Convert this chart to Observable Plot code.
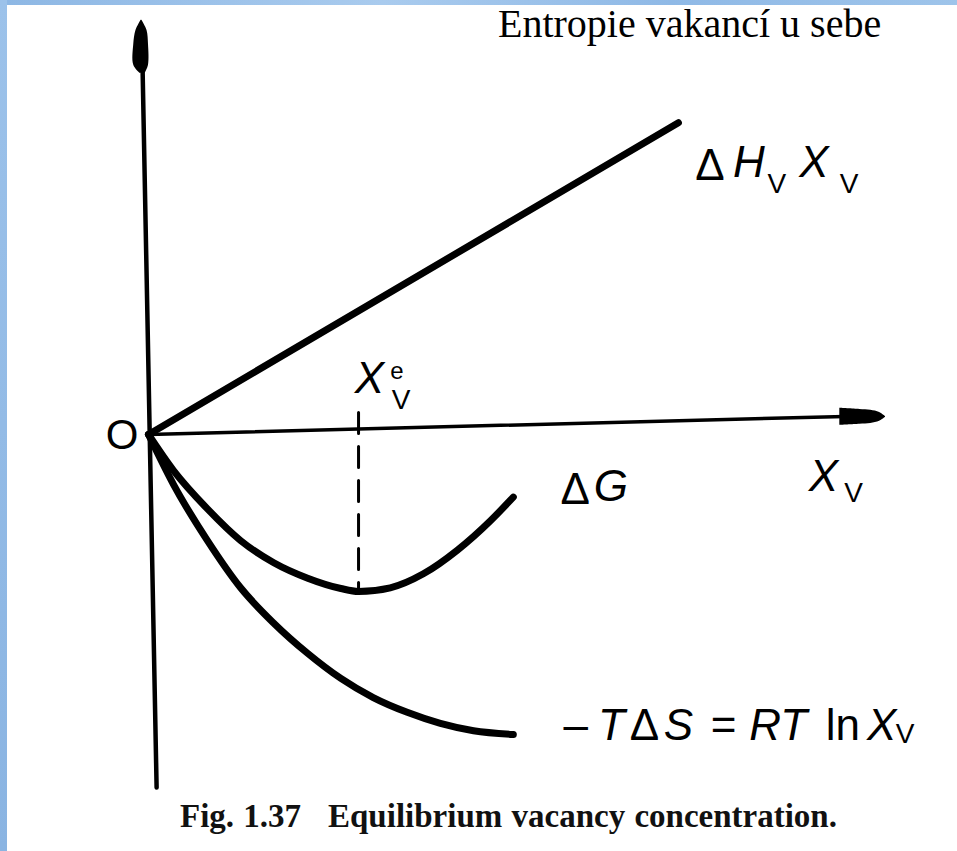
<!DOCTYPE html>
<html>
<head>
<meta charset="utf-8">
<script src="https://cdn.jsdelivr.net/npm/d3@7"></script>
<script src="https://cdn.jsdelivr.net/npm/@observablehq/plot@0.6"></script>
<style>
  html, body { margin: 0; padding: 0; background: #ffffff; }
  #page { position: relative; width: 957px; height: 851px; overflow: hidden; background: #ffffff; }
  #topstrip { position: absolute; left: 0; top: 0; width: 957px; height: 5px; background: linear-gradient(90deg, #8db7e4, #a9cbee 40%, #8fb9e6 70%, #9ec4ea); }
  #leftstrip { position: absolute; left: 0; top: 0; width: 7px; height: 851px; background: linear-gradient(180deg, #9cc2ea, #8ab4e2); }
  #chart { position: absolute; left: 0; top: 0; }
  #title { position: absolute; left: 498px; top: 4px; font-family: "Liberation Serif", "Times New Roman", serif; font-size: 40px; line-height: 40px; color: #000; white-space: nowrap; }
  .cap { position: absolute; top: 800px; font-family: "Liberation Serif", "Times New Roman", serif; font-weight: bold; font-size: 33px; line-height: 33px; color: #111; white-space: nowrap; word-spacing: 1px; }
</style>
</head>
<body>
<div id="page">
  <div id="chart"></div>
  <div id="topstrip"></div>
  <div id="leftstrip"></div>
  <div id="title">Entropie vakancí u sebe</div>
  <div class="cap" id="capFig" style="left:180px">Fig. 1.37</div>
  <div class="cap" id="capText" style="left:328px">Equilibrium vacancy concentration.</div>
</div>
<script>
// ---- Data (in chart units: X_v along x, energy along y) ----
const enthalpyX = [0, 71.9];
const enthalpyY = [0, 42.3];

const gibbsX = [0, 3.4, 8.0, 12.5, 17.0, 21.6, 26.1, 28.5, 32.8, 37.3, 41.9, 46.4, 49.5];
const gibbsY = [0, -4.9, -10.1, -14.4, -17.4, -19.5, -20.9, -21.3, -20.8, -18.9, -15.7, -11.7, -8.5];

const entropyX = [0, 3.4, 8.0, 12.5, 17.0, 21.6, 26.1, 30.5, 35.1, 39.6, 44.1, 49.5];
const entropyY = [0, -6.8, -14.4, -20.8, -25.6, -29.7, -33.1, -35.7, -37.7, -39.2, -40.2, -40.7];

// equilibrium concentration marker
const equilibriumX = 28.5;
const equilibriumSpan = [3.0, -21.2];

// axes (slightly skewed, as drawn in the scan)
const xAxisX = [0, 94.5];
const xAxisY = [0, 2.45];
const yAxisX = [-0.8, 1.1];
const yAxisY = [49.5, -47.9];

// arrowheads
const xArrowX = [93.8, 96.5, 98.0, 99.2, 100];
const xArrowLo = [1.25, 1.4, 1.5, 1.8, 2.35];
const xArrowHi = [3.55, 3.4, 3.3, 3.0, 2.45];
const yArrowY = [56.2, 54.8, 52.9, 50.1, 49.0];
const yArrowLo = [-1.0, -1.7, -2.0, -2.0, -1.15];
const yArrowHi = [-0.9, -0.2, 0.0, 0.0, -0.45];

// labels: text pieces with anchor points in chart units; kind selects the typographic role
const labelText = ["O",
  "Δ", "H", "V", "X", "V",
  "Δ", "G",
  "X", "V",
  "X", "V", "e",
  "–", "T", "Δ", "S", "=", "RT", "ln", "X", "V"];
const labelX = [-3.6,
  74.2, 79.3, 84.0, 88.3, 93.8,
  55.9, 60.4,
  89.6, 94.4,
  28.0, 33.0, 32.8,
  56.3, 61.0, 65.3, 69.9, 76.3, 81.5, 91.9, 97.5, 101.4];
const labelY = [-0.2,
  34.5, 34.9, 32.7, 34.9, 32.8,
  -9.4, -9.0,
  -7.6, -9.2,
  5.6, 3.5, 7.5,
  -41.5, -41.5, -41.5, -41.5, -41.5, -41.5, -41.5, -41.5, -41.8];
const labelKind = ["origin",
  "upright", "italic", "sub", "italic", "sub",
  "upright", "italic",
  "italic", "sub",
  "italic", "sub", "sup",
  "upright", "italic", "upright", "italic", "upright", "italic", "upright", "italic", "sub"];

// ---- Tables built from the arrays ----
const toRows = (xs, ys) => xs.map((x, i) => ({x, y: ys[i]}));
const enthalpy = toRows(enthalpyX, enthalpyY);
const gibbs = toRows(gibbsX, gibbsY);
const entropy = toRows(entropyX, entropyY);
const xAxisLine = toRows(xAxisX, xAxisY);
const yAxisLine = toRows(yAxisX, yAxisY);
const equilibrium = equilibriumSpan.map(y => ({x: equilibriumX, y}));
const xArrow = xArrowX.map((x, i) => ({x, y1: xArrowLo[i], y2: xArrowHi[i]}));
const yArrow = yArrowY.map((y, i) => ({y, x1: yArrowLo[i], x2: yArrowHi[i]}));
const labels = labelText.map((t, i) => ({t, x: labelX[i], y: labelY[i], kind: labelKind[i]}));
const pick = k => labels.filter(d => d.kind === k);

const sans = "Liberation Sans, Arial, Helvetica, sans-serif";

const chart = Plot.plot({
  width: 957,
  height: 851,
  margin: 0,
  style: {background: "transparent", overflow: "visible"},
  x: {domain: [0, 100], range: [148, 885], axis: null},
  y: {domain: [-50, 57], range: [802.5, 13.9], axis: null},
  marks: [
    Plot.line(xAxisLine, {x: "x", y: "y", stroke: "#000", strokeWidth: 3.5}),
    Plot.line(yAxisLine, {x: "x", y: "y", stroke: "#000", strokeWidth: 4.5, strokeLinecap: "round"}),
    Plot.areaY(xArrow, {x: "x", y1: "y1", y2: "y2", fill: "#000", curve: "catmull-rom"}),
    Plot.areaX(yArrow, {y: "y", x1: "x1", x2: "x2", fill: "#000", curve: "catmull-rom"}),
    Plot.line(equilibrium, {x: "x", y: "y", stroke: "#000", strokeWidth: 3, strokeDasharray: "21,13"}),
    Plot.line(enthalpy, {x: "x", y: "y", stroke: "#000", strokeWidth: 7, strokeLinecap: "round"}),
    Plot.line(gibbs, {x: "x", y: "y", stroke: "#000", strokeWidth: 7, strokeLinecap: "round", curve: "monotone-x"}),
    Plot.line(entropy, {x: "x", y: "y", stroke: "#000", strokeWidth: 7, strokeLinecap: "round", curve: "monotone-x"}),
    Plot.text(pick("origin"), {x: "x", y: "y", text: "t", fontFamily: sans, fontSize: 42, textAnchor: "middle", lineAnchor: "middle", fill: "#000"}),
    Plot.text(pick("upright"), {x: "x", y: "y", text: "t", fontFamily: sans, fontSize: 44, textAnchor: "start", lineAnchor: "bottom", fill: "#000"}),
    Plot.text(pick("italic"), {x: "x", y: "y", text: "t", fontFamily: sans, fontStyle: "italic", fontSize: 44, textAnchor: "start", lineAnchor: "bottom", fill: "#000"}),
    Plot.text(pick("sub"), {x: "x", y: "y", text: "t", fontFamily: sans, fontSize: 28, textAnchor: "start", lineAnchor: "bottom", fill: "#000"}),
    Plot.text(pick("sup"), {x: "x", y: "y", text: "t", fontFamily: sans, fontSize: 24, textAnchor: "start", lineAnchor: "bottom", fill: "#000"})
  ]
});
document.getElementById("chart").appendChild(chart);
</script>
</body>
</html>
